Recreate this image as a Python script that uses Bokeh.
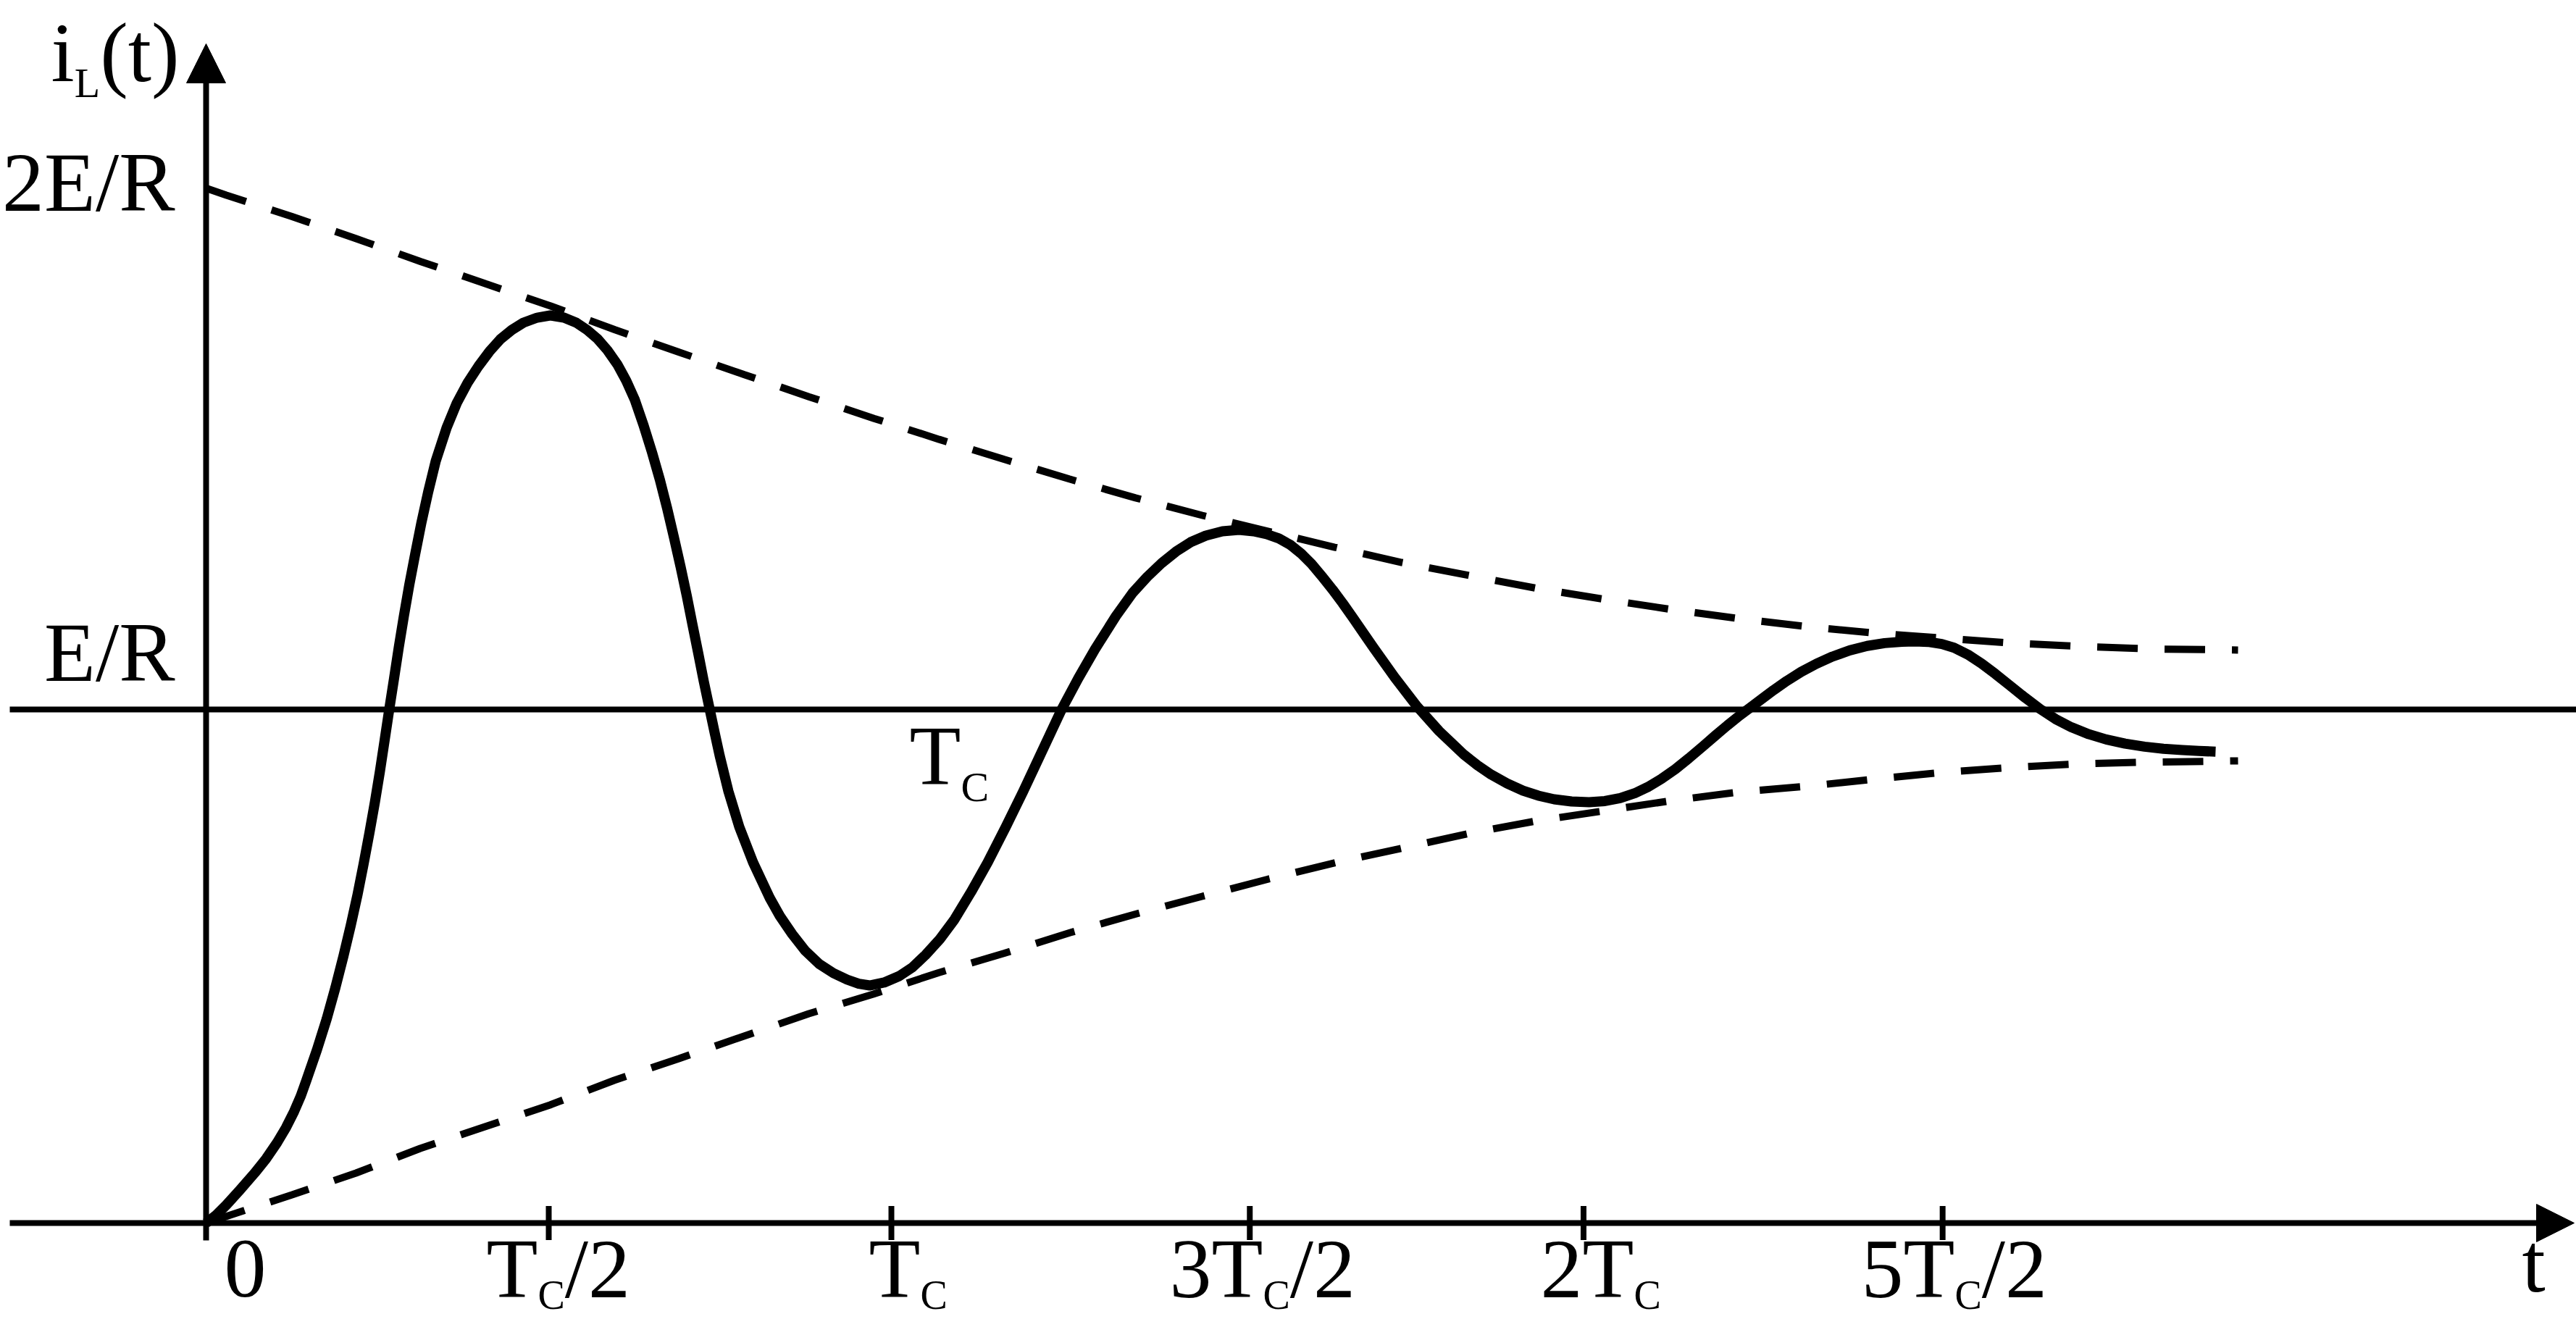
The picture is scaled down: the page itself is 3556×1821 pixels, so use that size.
from bokeh.plotting import figure
from bokeh.models import Range1d, Arrow, NormalHead
from bokeh.core.properties import value
from bokeh.embed import file_html
from bokeh.resources import INLINE

# ---------------- data (t in units of Tc, i in units of E/R) ----------------
t_curve = [
    0.0000, 0.0148, 0.0296, 0.0497, 0.0708, 0.0877, 0.1036, 0.1168, 0.1284, 0.1380,
    0.1464, 0.1617, 0.1760, 0.1887, 0.2003, 0.2109, 0.2209, 0.2299, 0.2384, 0.2463,
    0.2537, 0.2606, 0.2674, 0.2743, 0.2812, 0.2886, 0.2965, 0.3050, 0.3140, 0.3240,
    0.3351, 0.3510, 0.3658, 0.3816, 0.3975, 0.4133, 0.4292, 0.4461, 0.4630, 0.4831,
    0.5021, 0.5222, 0.5402, 0.5560, 0.5708, 0.5856, 0.6004, 0.6131, 0.6258, 0.6385,
    0.6507, 0.6622, 0.6727, 0.6826, 0.6924, 0.7014, 0.7098, 0.7183, 0.7262, 0.7347,
    0.7421, 0.7495, 0.7622, 0.7780, 0.7981, 0.8224, 0.8372, 0.8552, 0.8742, 0.8943,
    0.9154, 0.9355, 0.9524, 0.9683, 0.9894, 1.0116, 1.0307, 1.0497, 1.0708, 1.0920,
    1.1163, 1.1406, 1.1670, 1.1924, 1.2167, 1.2484, 1.2727, 1.2970, 1.3277, 1.3520,
    1.3732, 1.3943, 1.4154, 1.4366, 1.4588, 1.4831, 1.5074, 1.5285, 1.5476, 1.5655,
    1.5825, 1.5983, 1.6131, 1.6290, 1.6438, 1.6586, 1.6734, 1.6892, 1.7040, 1.7347,
    1.7674, 1.7992, 1.8351, 1.8552, 1.8753, 1.8985, 1.9218, 1.9440, 1.9672, 1.9926,
    2.0180, 2.0412, 2.0634, 2.0846, 2.1036, 2.1237, 2.1438, 2.1638, 2.1850, 2.2019,
    2.2199, 2.2378, 2.2569, 2.2727, 2.2875, 2.3066, 2.3277, 2.3499, 2.3732, 2.3985,
    2.4239, 2.4493, 2.4746, 2.4937, 2.5127, 2.5328, 2.5507, 2.5708, 2.5909, 2.6110,
    2.6311, 2.6543, 2.6765, 2.6987, 2.7220, 2.7474, 2.7727, 2.8002, 2.8288, 2.8562,
    2.8837, 2.9080, 2.9323]
i_curve = [
    0.0000, 0.0155, 0.0353, 0.0649, 0.0973, 0.1255, 0.1566, 0.1862, 0.2172, 0.2468,
    0.2779, 0.3371, 0.3977, 0.4584, 0.5190, 0.5783, 0.6389, 0.6996, 0.7602, 0.8195,
    0.8801, 0.9408, 1.0014, 1.0606, 1.1213, 1.1819, 1.2426, 1.3018, 1.3625, 1.4231,
    1.4838, 1.5487, 1.5966, 1.6361, 1.6685, 1.6968, 1.7207, 1.7391, 1.7532, 1.7630,
    1.7673, 1.7630, 1.7532, 1.7391, 1.7222, 1.6996, 1.6714, 1.6403, 1.6023, 1.5529,
    1.5007, 1.4471, 1.3921, 1.3357, 1.2779, 1.2214, 1.1650, 1.1086, 1.0550, 1.0014,
    0.9549, 0.9097, 0.8406, 0.7715, 0.7024, 0.6333, 0.5980, 0.5628, 0.5303, 0.5049,
    0.4866, 0.4739, 0.4661, 0.4626, 0.4683, 0.4810, 0.4979, 0.5219, 0.5529, 0.5910,
    0.6446, 0.7024, 0.7715, 0.8406, 0.9097, 1.0000, 1.0606, 1.1171, 1.1819, 1.2271,
    1.2581, 1.2849, 1.3075, 1.3258, 1.3385, 1.3470, 1.3498, 1.3470, 1.3413, 1.3329,
    1.3202, 1.3032, 1.2835, 1.2581, 1.2334, 1.2068, 1.1787, 1.1481, 1.1195, 1.0621,
    1.0054, 0.9580, 0.9126, 0.8914, 0.8731, 0.8561, 0.8420, 0.8322, 0.8251, 0.8209,
    0.8195, 0.8216, 0.8275, 0.8368, 0.8488, 0.8649, 0.8836, 0.9051, 0.9291, 0.9487,
    0.9690, 0.9882, 1.0071, 1.0231, 1.0378, 1.0556, 1.0733, 1.0890, 1.1030, 1.1151,
    1.1238, 1.1292, 1.1319, 1.1326, 1.1316, 1.1275, 1.1203, 1.1069, 1.0894, 1.0692,
    1.0478, 1.0230, 1.0007, 0.9814, 0.9653, 0.9518, 0.9416, 0.9336, 0.9275, 0.9234,
    0.9209, 0.9192, 0.9179]

t_upper = [0.0021, 0.0296, 0.1247, 0.2191, 0.3135, 0.4080, 0.5021, 0.5966, 0.6910, 0.7854,
           0.8795, 0.9746, 1.0698, 1.1649, 1.2595, 1.3562, 1.4535, 1.6469, 1.7446, 1.8433,
           1.9419, 2.0406, 2.1391, 2.2378, 2.3362, 2.4366, 2.6349, 2.7347, 2.8336, 2.9651]
i_upper = [2.0141, 2.0014, 1.9601, 1.9168, 1.8721, 1.8289, 1.7860, 1.7395, 1.6953, 1.6520,
           1.6091, 1.5668, 1.5259, 1.4869, 1.4488, 1.4121, 1.3780, 1.3159, 1.2863, 1.2609,
           1.2359, 1.2144, 1.1946, 1.1767, 1.1612, 1.1485, 1.1293, 1.1227, 1.1180, 1.1157]

t_lower = [0.0000, 0.1255, 0.2188, 0.3125, 0.4070, 0.5019, 0.5955, 0.6900, 0.8795, 0.9736,
           1.0687, 1.1649, 1.2611, 1.3562, 1.4535, 1.5507, 1.6480, 1.7452, 1.8488, 1.9404,
           2.0391, 2.1374, 2.2363, 2.3362, 2.4366, 2.5349, 2.6349, 2.7347, 2.8336, 2.9651]
i_lower = [0.0000, 0.0550, 0.0973, 0.1453, 0.1876, 0.2299, 0.2779, 0.3202, 0.4076, 0.4457,
           0.4873, 0.5254, 0.5656, 0.6016, 0.6361, 0.6700, 0.7017, 0.7299, 0.7602, 0.7828,
           0.8025, 0.8223, 0.8392, 0.8505, 0.8646, 0.8777, 0.8872, 0.8942, 0.8975, 0.8999]

steady_level = 1.0          # E/R
tick_values = [0.0, 0.5, 1.0, 1.523, 2.010, 2.534]
tick_labels = ["0", "T_C/2", "T_C", "3T_C/2", "2T_C", "5T_C/2"]

assert len(t_curve) == len(i_curve)
assert len(t_upper) == len(i_upper) and len(t_lower) == len(i_lower)

# ---------------- layout helpers (screen pixel -> data) ----------------
W, H = 3556, 1821
X0, PX_TC = 284, 946
Y0, PX_ER = 1688, 709


def dx(X):
    return (X - X0) / PX_TC


def dy(Y):
    return (Y0 - Y) / PX_ER


p = figure(width=W, height=H, output_backend="svg", toolbar_location=None,
           x_range=Range1d(dx(0), dx(W)), y_range=Range1d(dy(H), dy(0)),
           x_axis_location=None, y_axis_location=None, min_border=0)
p.grid.visible = False
p.outline_line_color = None
p.background_fill_color = "white"
p.border_fill_color = "white"

FONT = value("Liberation Serif")
MAIN, SUB = 116, 58
SHIFT = 0.36   # observed baseline offset of the text glyph, in em
ADV = {'0': .5, '2': .5, '3': .5, '5': .5, 'T': .611, 'C': .667, '/': .278,
       'E': .611, 'R': .667, 'i': .278, 'L': .611, '(': .333, ')': .333, 't': .278}


def put(txt, X, base_Y, fs, align="left"):
    p.text(x=[dx(X)], y=[dy(base_Y - SHIFT * fs)], text=[txt], text_font=FONT,
           text_font_size=value(f"{fs}px"), text_align=align,
           text_baseline="alphabetic", text_color="black")


def parse(label):
    segs, k = [], 0
    buf = ""
    while k < len(label):
        if label[k] == "_":
            if buf:
                segs.append((buf, False))
                buf = ""
            segs.append((label[k + 1], True))
            k += 2
        else:
            buf += label[k]
            k += 1
    if buf:
        segs.append((buf, False))
    return segs


def rich(label, left_px, base_px, drop=22, sub=SUB):
    X = left_px
    for txt, is_sub in parse(label):
        fs = sub if is_sub else MAIN
        put(txt, X, base_px + (drop if is_sub else 0), fs)
        X += sum(ADV.get(c, 0.5) for c in txt) * fs


# envelopes
p.line(t_upper, i_upper, line_color="black", line_width=10, line_dash="56 37")
p.line(t_lower, i_lower, line_color="black", line_width=10, line_dash="56 37")

# steady-state line
p.line([dx(13), dx(W)], [steady_level, steady_level], line_color="black", line_width=8)

# response curve
p.line(t_curve, i_curve, line_color="black", line_width=14, line_join="round")

# axes with arrows
p.add_layout(Arrow(end=NormalHead(size=54, fill_color="black", line_color="black", line_width=1),
                   x_start=0, y_start=dy(1712), x_end=0, y_end=dy(60),
                   line_color="black", line_width=8))
p.add_layout(Arrow(end=NormalHead(size=52, fill_color="black", line_color="black", line_width=1),
                   x_start=dx(13), y_start=0, x_end=dx(3553), y_end=0,
                   line_color="black", line_width=8))

# tick marks
half = 23.5 / PX_ER
p.segment(x0=tick_values[1:], y0=[-half] * 5, x1=tick_values[1:], y1=[half] * 5,
          line_color="black", line_width=8)

# tick labels
label_left_px = [309, 671, 1199, 1614, 2126, 2569]
for lab, lx in zip(tick_labels, label_left_px):
    rich(lab, lx, 1793, drop=15, sub=56)

# axis names and level labels
rich("i_L(t)", 70, 114, drop=21)
rich("t", 3481, 1785)
put("2E/R", 241, 293, MAIN, align="right")
put("E/R", 241, 942, MAIN, align="right")
rich("T_C", 1255, 1085)

open("out.html", "w").write(file_html(p, INLINE))
